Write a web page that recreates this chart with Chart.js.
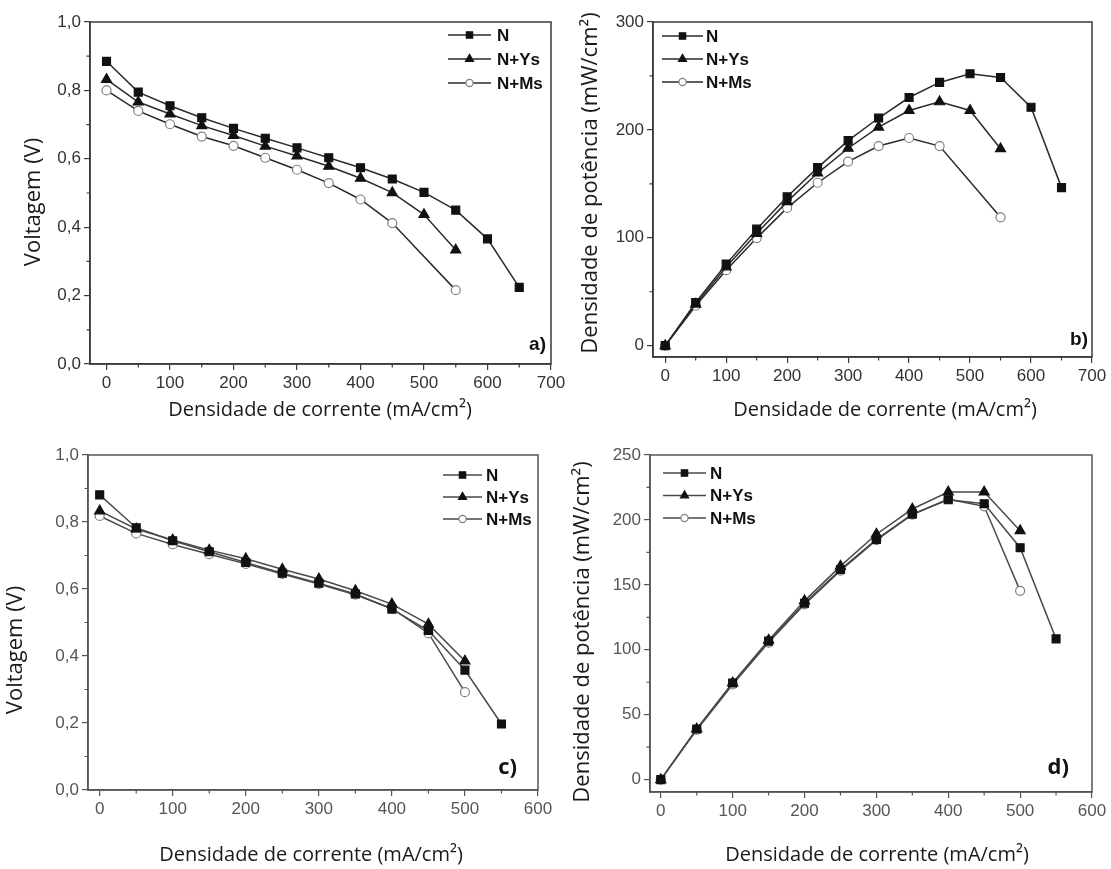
<!DOCTYPE html>
<html>
<head>
<meta charset="utf-8">
<script src="https://cdn.jsdelivr.net/npm/chart.js@4"></script>
<style>
  body { margin: 0; background: #fff; }
  .wrap { position: absolute; }
</style>
</head>
<body>
<div class="wrap" style="left:0;top:0"><canvas id="chartA" width="600" height="430"></canvas></div>
<div class="wrap" style="left:555px;top:0"><canvas id="chartB" width="556" height="430"></canvas></div>
<div class="wrap" style="left:0;top:430px"><canvas id="chartC" width="600" height="439"></canvas></div>
<div class="wrap" style="left:555px;top:430px"><canvas id="chartD" width="556" height="439"></canvas></div>
<script>
// ---- data ----
const seriesNames = ["N", "N+Ys", "N+Ms"];

// panel a) voltage, first set
const currentA_N = [0, 50, 100, 150, 200, 250, 300, 350, 400, 450, 500, 550, 600, 650];
const currentA_Ys = [0, 50, 100, 150, 200, 250, 300, 350, 400, 450, 500, 550];
const currentA_Ms = [0, 50, 100, 150, 200, 250, 300, 350, 400, 450, 550];
const voltA_N = [0.885, 0.795, 0.755, 0.72, 0.689, 0.66, 0.632, 0.603, 0.574, 0.541, 0.502, 0.45, 0.366, 0.224];
const voltA_Ys = [0.832, 0.766, 0.731, 0.697, 0.668, 0.637, 0.608, 0.578, 0.543, 0.501, 0.437, 0.333];
const voltA_Ms = [0.8, 0.74, 0.701, 0.665, 0.638, 0.603, 0.568, 0.529, 0.481, 0.412, 0.216];

// panel b) power, first set
const powerB_N = [0, 40, 75.6, 108, 138, 165, 190, 211, 230, 244, 252, 248.5, 221, 146.5];
const powerB_Ys = [0, 38.5, 73, 104, 133.5, 160, 183, 202.5, 218, 226, 218, 182.5];
const powerB_Ms = [0, 37, 70, 99.7, 127.7, 151, 170.6, 185, 192.5, 185, 119];

// panel c) voltage, second set
const currentC_N = [0, 50, 100, 150, 200, 250, 300, 350, 400, 450, 500, 550];
const currentC_YsMs = [0, 50, 100, 150, 200, 250, 300, 350, 400, 450, 500];
const voltC_N = [0.881, 0.783, 0.744, 0.711, 0.679, 0.647, 0.617, 0.585, 0.54, 0.476, 0.358, 0.197];
const voltC_Ys = [0.833, 0.779, 0.746, 0.716, 0.69, 0.659, 0.63, 0.595, 0.555, 0.495, 0.385];
const voltC_Ms = [0.818, 0.766, 0.733, 0.704, 0.675, 0.645, 0.615, 0.583, 0.542, 0.468, 0.292];

// panel d) power, second set
const powerD_N = [0, 39, 74.4, 106.7, 135.8, 161.8, 185, 204.5, 215.5, 212.5, 178.6, 108.4];
const powerD_Ys = [0, 39, 74.5, 107.4, 137.7, 164.4, 189, 208.4, 221.5, 221.5, 191.7];
const powerD_Ms = [0, 38.3, 73.3, 105.6, 135, 161, 184.5, 204, 216, 210.5, 145.4];

// ticks
const xTicks700 = [0, 100, 200, 300, 400, 500, 600, 700];
const xMinor700 = [50, 150, 250, 350, 450, 550, 650];
const xTicks600 = [0, 100, 200, 300, 400, 500, 600];
const xMinor600 = [50, 150, 250, 350, 450, 550];
const voltTicks = [0, 0.2, 0.4, 0.6, 0.8, 1.0];
const voltTickLabels = ["0,0", "0,2", "0,4", "0,6", "0,8", "1,0"];
const voltMinor = [0.1, 0.3, 0.5, 0.7, 0.9];
const powerTicksB = [0, 100, 200, 300];
const powerMinorB = [50, 150, 250];
const powerTicksD = [0, 50, 100, 150, 200, 250];
const powerMinorD = [25, 75, 125, 175, 225];

const xTitle = "Densidade de corrente (mA/cm²)";
const voltTitle = "Voltagem (V)";
const powerTitle = "Densidade de potência (mW/cm²)";

function zip(xs, ys) {
  return ys.map((y, i) => ({ x: xs[i], y: y }));
}

// draws the box, minor ticks, legend, panel letter and axis titles
const framePlugin = {
  id: "frame",
  afterDraw(chart, args, o) {
    const ctx = chart.ctx;
    const a = chart.chartArea;
    const xs = chart.scales.x, ys = chart.scales.y;
    ctx.save();
    ctx.strokeStyle = o.axisColor;
    ctx.lineWidth = 1.5;
    ctx.strokeRect(a.left, a.top, a.right - a.left, a.bottom - a.top);

    ctx.lineWidth = 1.2;
    ctx.beginPath();
    o.xMinor.forEach(v => {
      const px = xs.getPixelForValue(v);
      ctx.moveTo(px, a.bottom); ctx.lineTo(px, a.bottom + 3.5);
    });
    o.yMinor.forEach(v => {
      const py = ys.getPixelForValue(v);
      ctx.moveTo(a.left, py); ctx.lineTo(a.left - 3.5, py);
    });
    ctx.stroke();

    // legend
    chart.data.datasets.forEach((ds, i) => {
      const y = o.legend.y + i * o.legend.row;
      ctx.strokeStyle = ds.borderColor;
      ctx.lineWidth = ds.borderWidth;
      ctx.beginPath();
      ctx.moveTo(o.legend.x, y); ctx.lineTo(o.legend.x + o.legend.len, y);
      ctx.stroke();
      ctx.fillStyle = ds.pointBackgroundColor;
      ctx.strokeStyle = ds.pointBorderColor;
      ctx.lineWidth = ds.pointBorderWidth;
      Chart.helpers.drawPoint(ctx, {
        pointStyle: ds.pointStyle, radius: ds.pointRadius * 0.8, rotation: 0, borderWidth: ds.pointBorderWidth
      }, o.legend.x + o.legend.len / 2, y);
      ctx.fillStyle = "#111";
      ctx.font = "bold 17px 'Liberation Sans', Arial, sans-serif";
      ctx.textAlign = "left";
      ctx.textBaseline = "middle";
      ctx.fillText(ds.label, o.legend.text, y + 1);
    });

    // panel letter
    ctx.fillStyle = "#111";
    ctx.font = o.letter.font;
    ctx.textAlign = "right";
    ctx.textBaseline = "middle";
    ctx.fillText(o.letter.text, o.letter.x, o.letter.y);

    // axis titles
    ctx.fillStyle = "#1a1a1a";
    ctx.textAlign = "center";
    ctx.font = "20px 'Open Sans', sans-serif";
    ctx.fillText(o.xTitle.text, o.xTitle.x, o.xTitle.y);
    ctx.font = "22px 'Open Sans', sans-serif";
    ctx.translate(o.yTitle.x, o.yTitle.y);
    ctx.rotate(-Math.PI / 2);
    ctx.fillText(o.yTitle.text, 0, 0);
    ctx.restore();
  }
};

function lineSet(label, points, style, lineColor) {
  const base = {
    label: label,
    data: points,
    borderColor: lineColor,
    borderWidth: 1.5,
    pointBorderWidth: 1.2,
    tension: 0,
    fill: false
  };
  if (style === "rect") {
    return Object.assign(base, { pointStyle: "rect", pointRadius: 5.6, pointBackgroundColor: "#111", pointBorderColor: "#111" });
  }
  if (style === "triangle") {
    return Object.assign(base, { pointStyle: "triangle", pointRadius: 5.8, pointBackgroundColor: "#111", pointBorderColor: "#111" });
  }
  return Object.assign(base, { pointStyle: "circle", pointRadius: 4.5, pointBackgroundColor: "#fff", pointBorderColor: "#808080" });
}

function makePanel(id, p) {
  const canvas = document.getElementById(id);
  const W = canvas.width, H = canvas.height;
  const tickFont = { family: "'Liberation Sans', Arial, sans-serif", size: 17 };
  return new Chart(canvas.getContext("2d"), {
    type: "line",
    data: { datasets: p.datasets },
    options: {
      responsive: false,
      animation: false,
      events: [],
      layout: { padding: { left: 0, top: p.area.top, right: W - p.area.right, bottom: 0 } },
      plugins: {
        legend: { display: false },
        tooltip: { enabled: false },
        frame: {
          axisColor: p.axisColor,
          xMinor: p.xMinor, yMinor: p.yMinor,
          legend: p.legend, letter: p.letter,
          xTitle: p.xTitle, yTitle: p.yTitle
        }
      },
      scales: {
        x: {
          type: "linear",
          min: p.xMin, max: p.xMax,
          afterBuildTicks: s => { s.ticks = p.xTicks.map(v => ({ value: v })); },
          afterFit: s => { s.height = H - p.area.bottom; },
          border: { display: true, color: p.axisColor, width: 1.5 },
          grid: { drawOnChartArea: false, drawTicks: true, tickLength: 6, color: p.axisColor, lineWidth: 1.2 },
          ticks: { autoSkip: false, maxRotation: 0, padding: 3, color: p.tickColor, font: tickFont }
        },
        y: {
          type: "linear",
          min: p.yMin, max: p.yMax,
          afterBuildTicks: s => { s.ticks = p.yTicks.map(v => ({ value: v })); },
          afterFit: s => { s.width = p.area.left; },
          border: { display: true, color: p.axisColor, width: 1.5 },
          grid: { drawOnChartArea: false, drawTicks: true, tickLength: 6, color: p.axisColor, lineWidth: 1.2 },
          ticks: {
            autoSkip: false, padding: 3, color: p.tickColor, font: tickFont,
            callback: (v, i) => p.yLabels[i]
          }
        }
      }
    },
    plugins: [framePlugin]
  });
}

const darkLine = "#2a2a2a";
const grayLine = "#4a4a4a";

makePanel("chartA", {
  area: { left: 90, right: 551, top: 22, bottom: 364 },
  xMin: -26, xMax: 700, yMin: 0, yMax: 1,
  xTicks: xTicks700, xMinor: xMinor700,
  yTicks: voltTicks, yLabels: voltTickLabels, yMinor: voltMinor,
  axisColor: "#3a3a3a", tickColor: "#333",
  datasets: [
    lineSet(seriesNames[0], zip(currentA_N, voltA_N), "rect", darkLine),
    lineSet(seriesNames[1], zip(currentA_Ys, voltA_Ys), "triangle", darkLine),
    lineSet(seriesNames[2], zip(currentA_Ms, voltA_Ms), "circle", darkLine)
  ],
  legend: { x: 448, y: 35, row: 24, len: 43, text: 497 },
  letter: { text: "a)", x: 546, y: 345, font: "bold 19px 'Liberation Sans', Arial, sans-serif" },
  xTitle: { text: xTitle, x: 320, y: 410 },
  yTitle: { text: voltTitle, x: 34, y: 202 }
});

makePanel("chartB", {
  area: { left: 98, right: 537, top: 22, bottom: 357 },
  xMin: -20, xMax: 700, yMin: -10.5, yMax: 300,
  xTicks: xTicks700, xMinor: xMinor700,
  yTicks: powerTicksB, yLabels: powerTicksB.map(String), yMinor: powerMinorB,
  axisColor: "#3a3a3a", tickColor: "#333",
  datasets: [
    lineSet(seriesNames[0], zip(currentA_N, powerB_N), "rect", darkLine),
    lineSet(seriesNames[1], zip(currentA_Ys, powerB_Ys), "triangle", darkLine),
    lineSet(seriesNames[2], zip(currentA_Ms, powerB_Ms), "circle", darkLine)
  ],
  legend: { x: 107, y: 36, row: 23, len: 41, text: 151 },
  letter: { text: "b)", x: 533, y: 340, font: "bold 19px 'Liberation Sans', Arial, sans-serif" },
  xTitle: { text: xTitle, x: 330, y: 410 },
  yTitle: { text: powerTitle, x: 36, y: 183 }
});

makePanel("chartC", {
  area: { left: 88, right: 538, top: 25, bottom: 360 },
  xMin: -16, xMax: 600, yMin: 0, yMax: 1,
  xTicks: xTicks600, xMinor: xMinor600,
  yTicks: voltTicks, yLabels: voltTickLabels, yMinor: voltMinor,
  axisColor: "#555", tickColor: "#555",
  datasets: [
    lineSet(seriesNames[0], zip(currentC_N, voltC_N), "rect", grayLine),
    lineSet(seriesNames[1], zip(currentC_YsMs, voltC_Ys), "triangle", grayLine),
    lineSet(seriesNames[2], zip(currentC_YsMs, voltC_Ms), "circle", grayLine)
  ],
  legend: { x: 443, y: 45, row: 22, len: 39, text: 486 },
  letter: { text: "c)", x: 517, y: 338, font: "bold 22px 'Open Sans', sans-serif" },
  xTitle: { text: xTitle, x: 311, y: 425 },
  yTitle: { text: voltTitle, x: 16, y: 220 }
});

makePanel("chartD", {
  area: { left: 95, right: 537, top: 25, bottom: 362 },
  xMin: -15, xMax: 600, yMin: -9.5, yMax: 250,
  xTicks: xTicks600, xMinor: xMinor600,
  yTicks: powerTicksD, yLabels: powerTicksD.map(String), yMinor: powerMinorD,
  axisColor: "#555", tickColor: "#555",
  datasets: [
    lineSet(seriesNames[0], zip(currentC_N, powerD_N), "rect", grayLine),
    lineSet(seriesNames[1], zip(currentC_YsMs, powerD_Ys), "triangle", grayLine),
    lineSet(seriesNames[2], zip(currentC_YsMs, powerD_Ms), "circle", grayLine)
  ],
  legend: { x: 108, y: 43, row: 22.5, len: 43, text: 155 },
  letter: { text: "d)", x: 514, y: 338, font: "bold 22px 'Open Sans', sans-serif" },
  xTitle: { text: xTitle, x: 322, y: 425 },
  yTitle: { text: powerTitle, x: 28, y: 202 }
});
</script>
</body>
</html>
